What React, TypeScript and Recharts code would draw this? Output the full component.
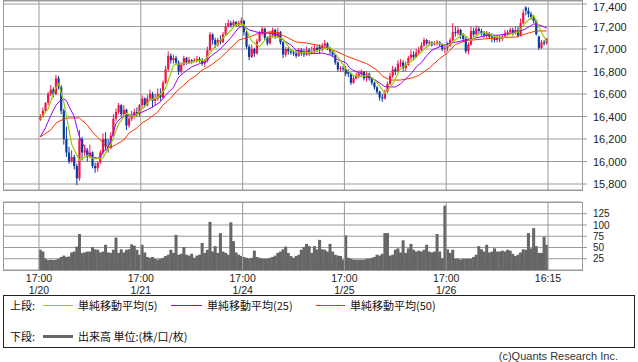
import React from "react";
import {
  ComposedChart,
  Bar,
  Line,
  XAxis,
  YAxis,
  CartesianGrid,
  ReferenceLine,
} from "recharts";

// ---- data ----
// [open, high, low, close] per 30-minute bar, 1/20 17:00 .. 1/27 16:15
const ohlc: number[][] = [
  // 1/20 17:00 -
  [16370,16420,16360,16400],[16400,16480,16390,16450],[16450,16530,16430,16520],[16520,16620,16500,16600],[16600,16680,16580,16640],
  [16640,16660,16570,16600],[16600,16770,16590,16740],[16740,16760,16640,16660],[16660,16680,16420,16450],[16450,16470,16150,16200],
  [16200,16310,16040,16080],[16080,16130,15980,16000],[16000,16100,15990,16040],[16040,16060,15930,15960],[15960,15980,15790,15850],
  [15850,16280,15830,16200],[16200,16220,16010,16080],[16080,16150,16050,16100],[16100,16120,16000,16040],[16040,16150,16030,16080],
  [16080,16090,15940,15960],[15960,15990,15900,15940],[15940,16000,15910,15990],[15990,16100,15980,16080],[16080,16250,16060,16200],
  [16200,16260,16100,16130],[16130,16200,16080,16120],[16120,16260,16110,16230],[16230,16420,16220,16380],[16380,16470,16360,16440],
  [16440,16520,16420,16500],[16500,16510,16400,16420],[16420,16500,16400,16460],[16460,16470,16280,16320],[16320,16400,16300,16380],
  [16380,16450,16360,16400],[16400,16470,16380,16440],[16440,16480,16400,16420],[16420,16510,16400,16500],
  // 1/21 17:00 -
  [16500,16590,16470,16560],[16560,16570,16480,16500],[16500,16590,16490,16560],[16560,16640,16540,16600],[16600,16620,16480,16540],
  [16540,16600,16500,16560],[16560,16650,16540,16600],[16600,16650,16540,16570],[16570,16720,16560,16700],[16700,16850,16690,16820],
  [16820,16980,16800,16940],[16940,16960,16870,16900],[16900,16950,16870,16920],[16920,16940,16860,16880],[16880,16900,16770,16800],
  [16800,16880,16780,16860],[16860,16940,16850,16920],[16920,16930,16860,16880],[16880,16930,16870,16900],[16900,16910,16870,16890],
  [16890,16920,16880,16900],[16900,16940,16880,16910],[16910,16930,16880,16900],[16900,16920,16850,16870],[16870,16910,16840,16900],
  [16900,17020,16880,16990],[16990,17150,16980,17130],[17130,17140,17040,17080],[17080,17100,17010,17040],[17040,17100,17020,17080],
  [17080,17120,17040,17060],[17060,17150,17050,17130],[17130,17230,17120,17200],[17200,17260,17190,17230],[17230,17250,17190,17210],
  [17210,17260,17200,17240],[17240,17250,17200,17210],[17210,17250,17200,17230],[17230,17280,17210,17250],
  // 1/24 17:00 -
  [17250,17260,17120,17150],[17150,17160,17000,17020],[17020,17040,16900,16930],[16930,17040,16920,17000],[17000,17010,16930,16960],
  [16960,17090,16950,17070],[17070,17160,17060,17140],[17140,17200,17120,17180],[17180,17190,17080,17100],[17100,17110,17030,17050],
  [17050,17160,17040,17120],[17120,17190,17100,17170],[17170,17180,17090,17110],[17110,17190,17100,17150],[17150,17160,17040,17060],
  [17060,17070,16920,16950],[16950,17020,16930,17000],[17000,17020,16950,16980],[16980,17000,16950,16970],[16970,16990,16940,16960],
  [16960,16990,16920,16940],[16940,17010,16930,16990],[16990,17010,16940,16960],[16960,17000,16930,16950],[16950,17020,16940,16990],
  [16990,17010,16940,16970],[16970,17020,16950,16980],[16980,17040,16960,17010],[17010,17030,16970,16990],[17020,17040,16960,16990],
  [16990,17050,16980,17030],[17030,17080,17010,17050],[17050,17060,16990,17010],[17010,17020,16950,16980],[16980,16990,16930,16950],
  [16950,16960,16860,16880],[16880,16890,16800,16820],[16820,16850,16800,16830],[16830,16850,16800,16820],
  // 1/25 17:00 -
  [16820,16850,16760,16780],[16800,16820,16750,16780],[16780,16790,16680,16700],[16700,16760,16690,16740],[16740,16790,16730,16760],
  [16760,16810,16740,16780],[16780,16820,16750,16800],[16800,16800,16720,16740],[16740,16800,16710,16780],[16780,16790,16720,16740],
  [16740,16750,16680,16700],[16700,16710,16640,16660],[16660,16670,16600,16620],[16620,16630,16540,16570],[16570,16600,16530,16560],
  [16560,16640,16550,16620],[16620,16710,16610,16690],[16690,16790,16680,16760],[16760,16850,16740,16820],[16820,16840,16770,16800],
  [16800,16900,16790,16870],[16870,16910,16840,16880],[16880,16900,16800,16830],[16830,16890,16800,16860],[16860,16940,16850,16920],
  [16920,16990,16900,16950],[16950,16980,16900,16930],[16930,17000,16920,16970],[16970,17020,16950,16990],[16990,17060,16980,17030],
  [17030,17100,17020,17080],[17080,17090,17030,17050],[17050,17080,17030,17060],[17060,17070,17020,17040],[17040,17070,17030,17050],
  [17050,17080,17030,17060],[17060,17070,17020,17040],[17040,17050,16980,17000],[17000,17040,16960,17010],
  // 1/26 17:00 -
  [17010,17060,16980,17030],[17030,17100,17020,17080],[17080,17230,17060,17150],[17150,17200,17110,17140],[17140,17200,17120,17170],
  [17170,17180,17090,17120],[17120,17140,17060,17090],[17090,17110,16960,16980],[16980,17060,16950,17040],[17040,17200,17030,17160],
  [17160,17190,17110,17130],[17130,17210,17120,17180],[17180,17200,17140,17160],[17160,17180,17120,17140],[17140,17160,17100,17120],
  [17120,17160,17100,17140],[17140,17150,17090,17110],[17110,17140,17060,17100],[17100,17120,17060,17080],[17080,17120,17060,17100],
  [17100,17120,17060,17090],[17090,17130,17070,17110],[17110,17170,17100,17140],[17140,17170,17120,17150],[17150,17190,17130,17170],
  [17170,17190,17120,17140],[17140,17200,17130,17170],[17170,17200,17100,17120],[17120,17270,17110,17230],[17230,17350,17220,17320],
  [17370,17380,17300,17340],[17340,17370,17280,17310],[17310,17330,17260,17280],[17280,17300,17230,17250],[17250,17260,17120,17130],
  [17110,17120,16990,17010],[17010,17080,17000,17060],[17060,17080,17030,17050],[17050,17100,17040,17090],
];

// volume per bar
const volumes: number[] = [
  45,41,25,22,23,22,23,25,29,32,29,30,39,41,52,80,38,39,41,41,51,46,45,39,41,56,39,38,45,72,38,46,39,45,46,57,54,45,34,
  56,39,29,27,29,25,23,25,27,31,34,45,38,78,34,36,51,34,32,36,27,32,34,60,38,45,107,41,53,38,82,41,38,34,106,64,39,34,31,
  29,27,25,27,43,29,27,25,25,25,27,29,32,38,41,46,52,38,31,27,31,34,45,51,58,53,38,53,46,67,46,45,41,58,41,34,32,31,23,
  77,27,25,23,23,23,23,23,25,25,27,29,34,32,36,82,82,32,34,45,48,39,66,38,48,58,45,41,43,41,45,56,41,39,41,80,41,26,143,
  46,38,45,25,25,23,25,25,25,25,29,34,53,46,41,56,39,41,48,41,41,43,41,45,43,36,31,34,39,46,45,82,48,93,53,38,38,74,56,
];

// moving averages: [bar index, value]
const ma5Points: number[][] = [
  [0,16380],[3,16470],[6,16660],[7,16690],[9,16530],[12,16154],[15,16010],[18,16054],[21,16024],[24,16034],[27,16152],
  [30,16334],[33,16428],[36,16400],[39,16464],[42,16544],[45,16572],[48,16650],[51,16856],[54,16872],[57,16872],
  [60,16896],[63,16896],[66,16994],[69,17078],[72,17140],[75,17218],[78,17216],[81,17070],[84,17020],[87,17108],
  [90,17110],[93,17088],[96,16992],[99,16968],[102,16966],[105,16980],[108,17000],[111,17012],[114,16928],[117,16826],
  [120,16764],[123,16756],[126,16768],[129,16700],[132,16606],[135,16690],[138,16826],[141,16872],[144,16926],[147,17000],
  [150,17052],[153,17050],[156,17028],[159,17082],[162,17134],[165,17078],[168,17134],[171,17148],[174,17110],[177,17096],
  [180,17132],[183,17150],[186,17236],[189,17300],[192,17146],[194,17068],
];
const ma25Points: number[][] = [
  [0,16220],[2,16300],[4,16410],[6,16500],[8,16550],[9,16555],[10,16540],[11,16490],[13,16400],[14,16300],[15,16220],
  [16,16165],[18,16085],[20,16040],[22,16030],[23,16040],[24,16085],[26,16120],[27,16190],[28,16260],[29,16340],[31,16390],
  [33,16410],[36,16415],[38,16430],[41,16460],[43,16485],[46,16530],[48,16590],[51,16660],[53,16750],[56,16810],[58,16840],
  [61,16870],[64,16895],[65,16930],[69,17000],[73,17100],[76,17190],[78,17205],[80,17170],[83,17150],[85,17142],[88,17140],
  [91,17124],[93,17080],[96,17036],[98,16990],[101,16973],[103,16964],[106,16960],[108,16964],[111,16947],[114,16905],
  [117,16880],[119,16820],[124,16770],[128,16730],[132,16665],[136,16662],[138,16690],[142,16780],[144,16840],[146,16880],
  [148,16940],[150,16990],[153,17020],[156,17045],[163,17080],[171,17120],[176,17124],[183,17151],[186,17180],[189,17222],
  [191,17215],[194,17187],
];
const ma50Points: number[][] = [
  [0,16218],[4,16280],[6,16342],[9,16378],[11,16387],[15,16387],[18,16324],[20,16262],[23,16191],[25,16140],[27,16125],
  [29,16150],[32,16191],[34,16253],[37,16298],[39,16342],[42,16387],[45,16440],[47,16502],[50,16564],[52,16618],[55,16680],
  [57,16724],[60,16769],[62,16813],[65,16850],[69,16920],[73,17009],[76,17080],[80,17107],[84,17142],[88,17151],[91,17142],
  [95,17098],[98,17062],[102,17053],[106,17036],[110,17009],[114,16973],[117,16940],[121,16905],[125,16870],[129,16813],
  [131,16760],[134,16724],[138,16724],[142,16740],[145,16765],[149,16830],[153,16915],[156,16965],[159,17040],[163,17075],
  [168,17085],[174,17098],[182,17107],[187,17142],[190,17160],[194,17160],
];

const priceTicks = [15800, 16000, 16200, 16400, 16600, 16800, 17000, 17200, 17400];
const volumeTicks = [25, 50, 75, 100, 125];
const dayTicks = [-0.5, 38.5, 77.5, 116.5, 155.5, 194.5];
const timeLabels = ["17:00", "17:00", "17:00", "17:00", "17:00", "16:15"];
const dateLabels = ["1/20", "1/21", "1/24", "1/25", "1/26", ""];

// ---- table built from the arrays ----
type Row = {
  i: number; o: number; h: number; l: number; c: number; v: number;
  ma5: number | null; ma25: number | null; ma50: number | null;
};
const rows: Row[] = ohlc.map(([o, h, l, c], i) => ({
  i, o, h, l, c, v: volumes[i], ma5: null, ma25: null, ma50: null,
}));
ma5Points.forEach(([i, v]) => { rows[i].ma5 = v; });
ma25Points.forEach(([i, v]) => { rows[i].ma25 = v; });
ma50Points.forEach(([i, v]) => { rows[i].ma50 = v; });

// ---- styling ----
const UP = "#f0144a";
const DOWN = "#0a3ca0";
const GRID = "#9a9a9a";
const X_DOMAIN: [number, number] = [-14.29, 207.52];
const BAND = 509 / 195;
const LAT = "'Liberation Sans', Arial, sans-serif";
const JP = "'Noto Sans CJK JP', sans-serif";

const Candle = (props: any) => {
  const { x, y, width, height, payload } = props;
  if (x == null || y == null || !payload) return null;
  const top = Math.min(y, y + height);
  const bottom = Math.max(y, y + height);
  const range = payload.h - payload.l;
  const ppu = range > 0 ? (bottom - top) / range : 0;
  const yO = top + (payload.h - payload.o) * ppu;
  const yC = top + (payload.h - payload.c) * ppu;
  const color = payload.c >= payload.o ? UP : DOWN;
  const cx = x + width / 2;
  const bTop = Math.min(yO, yC);
  const bH = Math.max(1, Math.abs(yC - yO));
  return (
    <g>
      <line x1={cx} x2={cx} y1={top} y2={bottom} stroke={color} strokeWidth={1} />
      <rect x={cx - 1.1} y={bTop} width={2.2} height={bH} fill={color} />
    </g>
  );
};

const VolBar = (props: any) => {
  const { x, y, width, height } = props;
  if (x == null || y == null || !height) return null;
  return <rect x={x - 0.2} y={y} width={width + 0.4} height={height} fill="#666666" />;
};

const PriceTick = (props: any) => {
  const { x, y, payload } = props;
  const base = Math.max(y + 4, 10.5);
  return (
    <text x={x} y={base} textAnchor="start" fontSize={11} fontFamily={LAT} fill="#222">
      {fmt(payload.value)}
    </text>
  );
};

const TimeTick = (props: any) => {
  const { x, index } = props;
  return (
    <g>
      <text x={x} y={82} textAnchor="middle" fontSize={10.5} fontFamily={LAT} fill="#222">
        {timeLabels[index]}
      </text>
      {dateLabels[index] ? (
        <text x={x} y={94} textAnchor="middle" fontSize={10.5} fontFamily={LAT} fill="#222">
          {dateLabels[index]}
        </text>
      ) : null}
    </g>
  );
};

function fmt(v: number) {
  return v.toLocaleString("en-US");
}

export default function App() {
  return (
    <div style={{ position: "absolute", left: 0, top: 0, width: 638, height: 362, background: "#fff", overflow: "hidden" }}>
      {/* price panel */}
      <div style={{ position: "absolute", left: 0, top: 0 }}>
        <ComposedChart width={638} height={190} data={rows} margin={{ top: 1, right: 0, bottom: 0, left: 3 }}>
          <CartesianGrid vertical={false} stroke={GRID} />
          <XAxis dataKey="i" type="number" domain={X_DOMAIN} allowDataOverflow hide ticks={dayTicks} />
          <YAxis
            orientation="right"
            width={56}
            type="number"
            domain={[15746.7, 17426.7]}
            allowDataOverflow
            ticks={priceTicks}
            interval={0}
            axisLine={false}
            tickSize={5}
            tickMargin={6}
            tickLine={{ stroke: GRID }}
            tick={<PriceTick />}
          />
          {dayTicks.map((t) => (
            <ReferenceLine key={t} x={t} stroke={GRID} strokeWidth={1} />
          ))}
          <Bar dataKey={(d: Row) => [d.l, d.h]} barSize={BAND} shape={<Candle />} isAnimationActive={false} />
          <Line dataKey="ma50" stroke="#ff3300" strokeWidth={1} dot={false} connectNulls isAnimationActive={false} />
          <Line dataKey="ma25" stroke="#9900ff" strokeWidth={1} dot={false} connectNulls isAnimationActive={false} />
          <Line dataKey="ma5" stroke="#99cc00" strokeWidth={1.2} dot={false} connectNulls isAnimationActive={false} />
        </ComposedChart>
      </div>
      <div style={{ position: "absolute", left: 3, top: 0, width: 580, height: 191, border: `1px solid ${GRID}`, boxSizing: "border-box", pointerEvents: "none" }} />

      {/* volume panel */}
      <div style={{ position: "absolute", left: 0, top: 200 }}>
        <ComposedChart width={638} height={98} data={rows} margin={{ top: 2, right: 0, bottom: 0, left: 3 }}>
          <CartesianGrid vertical={false} stroke={GRID} />
          <XAxis
            dataKey="i"
            type="number"
            domain={X_DOMAIN}
            allowDataOverflow
            ticks={dayTicks}
            height={28}
            axisLine={false}
            tickLine={false}
            tickSize={0}
            tickMargin={0}
            interval={0}
            tick={<TimeTick />}
          />
          <YAxis
            orientation="right"
            width={56}
            type="number"
            domain={[0, 151.1]}
            allowDataOverflow
            ticks={volumeTicks}
            interval={0}
            axisLine={false}
            tickSize={5}
            tickMargin={6}
            tickLine={{ stroke: GRID }}
            tick={{ fontSize: 10, fill: "#222", fontFamily: LAT }}
          />
          {dayTicks.map((t) => (
            <ReferenceLine key={t} x={t} stroke={GRID} strokeWidth={1} />
          ))}
          <Bar dataKey="v" barSize={BAND} shape={<VolBar />} isAnimationActive={false} />
        </ComposedChart>
      </div>
      <div style={{ position: "absolute", left: 3, top: 202, width: 580, height: 69, border: `1px solid ${GRID}`, boxSizing: "border-box", pointerEvents: "none" }} />

      {/* legend box */}
      <div style={{ position: "absolute", left: 3, top: 295, width: 632, height: 53, border: "1px solid #222", boxSizing: "border-box" }} />
      <div style={{ position: "absolute", left: 10, top: 297, fontFamily: JP, fontSize: 11, lineHeight: "16px", color: "#111", whiteSpace: "nowrap" }}>上段:</div>
      <div style={{ position: "absolute", left: 43, top: 305, width: 30, height: 1, background: "#99cc00" }} />
      <div style={{ position: "absolute", left: 78, top: 297, fontFamily: JP, fontSize: 11, lineHeight: "16px", color: "#111", whiteSpace: "nowrap" }}>単純移動平均(5)</div>
      <div style={{ position: "absolute", left: 171, top: 305, width: 31, height: 1, background: "#9900ff" }} />
      <div style={{ position: "absolute", left: 207, top: 297, fontFamily: JP, fontSize: 11, lineHeight: "16px", color: "#111", whiteSpace: "nowrap" }}>単純移動平均(25)</div>
      <div style={{ position: "absolute", left: 316, top: 305, width: 29, height: 1, background: "#ff3300" }} />
      <div style={{ position: "absolute", left: 350, top: 297, fontFamily: JP, fontSize: 11, lineHeight: "16px", color: "#111", whiteSpace: "nowrap" }}>単純移動平均(50)</div>
      <div style={{ position: "absolute", left: 10, top: 328, fontFamily: JP, fontSize: 11, lineHeight: "16px", color: "#111", whiteSpace: "nowrap" }}>下段:</div>
      <div style={{ position: "absolute", left: 43, top: 335, width: 30, height: 3, background: "#666666" }} />
      <div style={{ position: "absolute", left: 78, top: 328, fontFamily: JP, fontSize: 11, lineHeight: "16px", color: "#111", whiteSpace: "nowrap" }}>出来高 単位:(株/口/枚)</div>
      <div style={{ position: "absolute", right: 20, top: 349, fontFamily: LAT, fontSize: 11, lineHeight: "14px", color: "#333", whiteSpace: "nowrap" }}>(c)Quants Research Inc.</div>
    </div>
  );
}
